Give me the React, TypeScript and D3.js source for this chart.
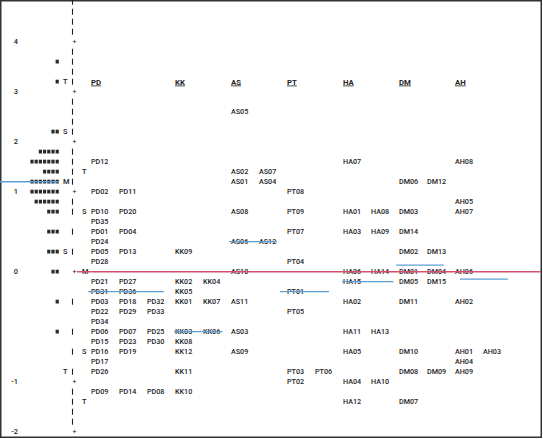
// App.tsx - Wright map (persons | items) drawn with d3
import * as d3 from "d3";
import React, { useRef, useEffect } from "react";

const width = 543;
const height = 439;

// logit ticks and the text row they sit on
const logitTicks = [4, 3, 2, 1, 0, -1, -2];
const tickRows = [4, 9, 14, 19, 27, 38, 43];

// persons: one "#" per person group
const personRows = [6, 8, 13, 15, 16, 17, 18, 19, 20, 21, 23, 25, 27, 30, 33];
const personCounts = [1, 1, 2, 5, 7, 4, 7, 7, 6, 3, 3, 3, 2, 1, 1];

// M / S / T markers
const personMarkRows = [8, 13, 18, 25, 37];
const personMarks = ["T", "S", "M", "S", "T"];
const itemMarkRows = [17, 21, 27, 35, 40];
const itemMarks = ["T", "S", "M", "S", "T"];

// rows where the vertical bar is printed
const barRows = [0, 1, 2, 3, 5, 6, 7, 8, 10, 11, 12, 13, 15, 16, 17, 18, 20, 21, 23, 25, 30, 33, 35, 37, 39, 40, 41, 42];

// item groups
const groups = ["PD", "KK", "AS", "PT", "HA", "DM", "AH"];
const groupCols = [3, 2, 2, 2, 2, 2, 2];

const PD = [
  ["PD12", 16], ["PD02", 19], ["PD11", 19], ["PD10", 21], ["PD20", 21], ["PD35", 22],
  ["PD01", 23], ["PD04", 23], ["PD24", 24], ["PD05", 25], ["PD13", 25], ["PD28", 26],
  ["PD21", 28], ["PD27", 28], ["PD31", 29], ["PD36", 29], ["PD03", 30], ["PD18", 30],
  ["PD32", 30], ["PD22", 31], ["PD29", 31], ["PD33", 31], ["PD34", 32], ["PD06", 33],
  ["PD07", 33], ["PD25", 33], ["PD15", 34], ["PD23", 34], ["PD30", 34], ["PD16", 35],
  ["PD19", 35], ["PD17", 36], ["PD26", 37], ["PD09", 39], ["PD14", 39], ["PD08", 39],
];
const KK = [
  ["KK09", 25], ["KK02", 28], ["KK04", 28], ["KK05", 29], ["KK01", 30], ["KK07", 30],
  ["KK03", 33], ["KK06", 33], ["KK08", 34], ["KK12", 35], ["KK11", 37], ["KK10", 39],
];
const AS = [
  ["AS05", 11], ["AS02", 17], ["AS07", 17], ["AS01", 18], ["AS04", 18], ["AS08", 21],
  ["AS06", 24], ["AS12", 24], ["AS10", 27], ["AS11", 30], ["AS03", 33], ["AS09", 35],
];
const PT = [
  ["PT08", 19], ["PT09", 21], ["PT07", 23], ["PT04", 26], ["PT01", 29], ["PT05", 31],
  ["PT03", 37], ["PT06", 37], ["PT02", 38],
];
const HA = [
  ["HA07", 16], ["HA01", 21], ["HA08", 21], ["HA03", 23], ["HA09", 23], ["HA06", 27],
  ["HA14", 27], ["HA15", 28], ["HA02", 30], ["HA11", 33], ["HA13", 33], ["HA05", 35],
  ["HA04", 38], ["HA10", 38], ["HA12", 40],
];
const DM = [
  ["DM06", 18], ["DM12", 18], ["DM03", 21], ["DM14", 23], ["DM02", 25], ["DM13", 25],
  ["DM01", 27], ["DM04", 27], ["DM05", 28], ["DM15", 28], ["DM11", 30], ["DM10", 35],
  ["DM08", 37], ["DM09", 37], ["DM07", 40],
];
const AH = [
  ["AH08", 16], ["AH05", 20], ["AH07", 21], ["AH06", 27], ["AH02", 30], ["AH01", 35],
  ["AH03", 35], ["AH04", 36], ["AH09", 37],
];
const groupItems = [PD, KK, AS, PT, HA, DM, AH];

// hand-drawn blue marks (row, from column, to column)
const strikeRows = [29, 24, 29, 26.35, 28, 27.75, 33];
const strikeFrom = [-0.1, 4.93, 6.75, 10.9, 8.96, 13.18, 2.96];
const strikeTo = [2.6, 6.64, 8.5, 12.6, 10.8, 14.9, 4.7];

const font = "Roboto, 'Noto Sans', sans-serif";
const ink = "#1e1e1e";

function WrightMap() {
  const ref = useRef<SVGSVGElement>(null);

  useEffect(() => {
    const svg = d3.select(ref.current);
    svg.selectAll("*").remove();

    // text rows -> pixels
    const rowY = d3.scaleLinear().domain([0, 43]).range([1.7, 431.7]);
    // logits -> text rows (the map is not linear)
    const logitRow = d3.scaleLinear().domain(logitTicks).range(tickRows);
    // item sub-columns -> pixels
    const colX = d3.scaleLinear().domain([0, 14]).range([91, 483]);
    // person "#" slots, counted from the bar leftwards
    const hashX = d3.scaleLinear().domain([0, 1]).range([55.6, 51.4]);
    const barX = 72.5;

    svg.append("rect")
      .attr("x", 0.75).attr("y", 0.75)
      .attr("width", 540.5).attr("height", 436.5)
      .attr("fill", "#fff").attr("stroke", "#333").attr("stroke-width", 1.5);

    // axis numbers
    svg.append("g").selectAll("text").data(logitTicks).enter().append("text")
      .attr("x", 18).attr("y", (d) => rowY(logitRow(d)))
      .attr("dy", "0.36em").attr("text-anchor", "end")
      .attr("font-family", font).attr("font-size", 7.4).attr("font-weight", 500).attr("fill", ink)
      .text((d) => d);

    // vertical bar
    svg.append("g").selectAll("line").data(barRows).enter().append("line")
      .attr("x1", barX).attr("x2", barX)
      .attr("y1", (d) => rowY(d) - 3).attr("y2", (d) => rowY(d) + 3)
      .attr("stroke", ink).attr("stroke-width", 1.1);

    svg.append("g").selectAll("text").data(tickRows).enter().append("text")
      .attr("x", barX + 2).attr("y", (d) => rowY(d))
      .attr("dy", "0.36em").attr("text-anchor", "middle")
      .attr("font-family", font).attr("font-size", 7).attr("fill", ink)
      .text("+");

    // persons
    const hashes = personRows.flatMap((r, i) => d3.range(personCounts[i]).map((k) => ({ row: r, k })));
    svg.append("g").selectAll("rect").data(hashes).enter().append("rect")
      .attr("x", (d) => hashX(d.k)).attr("y", (d) => rowY(d.row) - 2)
      .attr("width", 3.2).attr("height", 3.8)
      .attr("fill", "#2a2a2a");

    svg.append("g").selectAll("text").data(personMarkRows).enter().append("text")
      .attr("x", 63).attr("y", (d) => rowY(d))
      .attr("dy", "0.36em")
      .attr("font-family", font).attr("font-size", 7.4).attr("font-weight", 500).attr("fill", ink)
      .text((d, i) => personMarks[i]);

    svg.append("g").selectAll("text").data(itemMarkRows).enter().append("text")
      .attr("x", 82).attr("y", (d) => rowY(d))
      .attr("dy", "0.36em")
      .attr("font-family", font).attr("font-size", 7.4).attr("font-weight", 500).attr("fill", ink)
      .text((d, i) => itemMarks[i]);

    // group headers and items
    const startCols = groupCols.map((c, i) => d3.sum(groupCols.slice(0, i)));
    svg.append("g").selectAll("text").data(groups).enter().append("text")
      .attr("x", (d, i) => colX(startCols[i])).attr("y", rowY(8))
      .attr("dy", "0.36em")
      .attr("font-family", font).attr("font-size", 7.8).attr("font-weight", "bold")
      .attr("text-decoration", "underline").attr("fill", ink)
      .text((d) => d);

    groupItems.forEach((items, g) => {
      const placed = items.map((it) => {
        const sameRow = items.filter((o) => o[1] === it[1]);
        return { code: it[0], row: it[1] as number, col: startCols[g] + sameRow.indexOf(it) };
      });
      svg.append("g").selectAll("text").data(placed).enter().append("text")
        .attr("x", (d) => colX(d.col)).attr("y", (d) => rowY(d.row))
        .attr("dy", "0.36em")
        .attr("font-family", font).attr("font-size", 7.2).attr("font-weight", 500).attr("fill", ink)
        .text((d) => d.code);
    });

    // mean lines
    svg.append("line")
      .attr("x1", 0).attr("x2", 59)
      .attr("y1", rowY(18)).attr("y2", rowY(18))
      .attr("stroke", "#5b9fd6").attr("stroke-width", 1.4);
    svg.append("line")
      .attr("x1", 77).attr("x2", 541)
      .attr("y1", rowY(27)).attr("y2", rowY(27))
      .attr("stroke", "#d4506f").attr("stroke-width", 1.5);

    // blue marks
    svg.append("g").selectAll("line").data(strikeRows).enter().append("line")
      .attr("x1", (d, i) => colX(strikeFrom[i])).attr("x2", (d, i) => colX(strikeTo[i]))
      .attr("y1", (d) => rowY(d)).attr("y2", (d) => rowY(d))
      .attr("stroke", "#5b9fd6").attr("stroke-width", 1.3);
  }, []);

  return <svg ref={ref} width={width} height={height} style={{ display: "block" }} />;
}

export default function App() {
  return (
    <div style={{ position: "absolute", left: 0, top: 0 }}>
      <WrightMap />
    </div>
  );
}
